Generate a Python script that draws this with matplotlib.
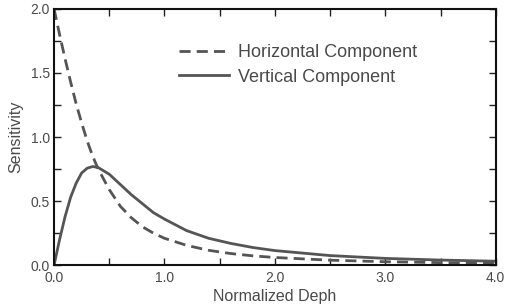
import numpy as np
import matplotlib
matplotlib.use("Agg")
import matplotlib.pyplot as plt
from matplotlib.ticker import MultipleLocator

# values
depth = [0.0, 0.05, 0.1, 0.15, 0.2, 0.25, 0.3, 0.35, 0.4, 0.5, 0.6, 0.7,
         0.8, 0.9, 1.0, 1.2, 1.4, 1.6, 1.8, 2.0, 2.5, 3.0, 3.5, 4.0]
horizontal = [2.0, 1.80, 1.61, 1.43, 1.26, 1.11, 0.97, 0.85, 0.75, 0.59, 0.46, 0.37,
              0.30, 0.25, 0.21, 0.155, 0.116, 0.091, 0.073, 0.060, 0.039, 0.027, 0.020, 0.016]
vertical = [0.0, 0.20, 0.38, 0.53, 0.64, 0.72, 0.757, 0.77, 0.762, 0.71, 0.63, 0.55,
            0.48, 0.41, 0.36, 0.27, 0.21, 0.17, 0.138, 0.114, 0.075, 0.053, 0.040, 0.031]

plt.rcParams['font.family'] = ['Liberation Sans', 'DejaVu Sans']
grey = '#555555'
txt = '#4a4a4a'

fig = plt.figure(figsize=(5.1, 3.08), dpi=100)
ax = fig.add_axes([0.106, 0.139, 0.866, 0.832])

ax.plot(depth, horizontal, color=grey, lw=2, dashes=(4, 2.2), label='Horizontal Component')
ax.plot(depth, vertical, color=grey, lw=2, label='Vertical Component')

ax.set_xlim(0, 4)
ax.set_ylim(0, 2)
ax.xaxis.set_major_locator(MultipleLocator(1))
ax.xaxis.set_minor_locator(MultipleLocator(0.5))
ax.yaxis.set_major_locator(MultipleLocator(0.5))
ax.yaxis.set_minor_locator(MultipleLocator(0.25))
ax.xaxis.set_major_formatter(plt.FormatStrFormatter('%.1f'))
ax.yaxis.set_major_formatter(plt.FormatStrFormatter('%.1f'))
ax.tick_params(which='both', direction='in', top=True, right=True, labelsize=10,
               labelcolor=txt, color='#222222', width=1, length=5)
ax.tick_params(axis='x', pad=4)
ax.tick_params(axis='y', pad=3)
for s in ax.spines.values():
    s.set_linewidth(1.5)
    s.set_color('#111111')

ax.set_xlabel('Normalized Deph', fontsize=11.5, color=txt, labelpad=3)
ax.set_ylabel('Sensitivity', fontsize=11.5, color=txt, labelpad=5)

ax.legend(loc='upper left', bbox_to_anchor=(0.245, 0.925), frameon=False, fontsize=13,
          handlelength=2.8, handletextpad=0.5, labelspacing=0.4, labelcolor=txt)

plt.savefig('out.png', dpi=100)
